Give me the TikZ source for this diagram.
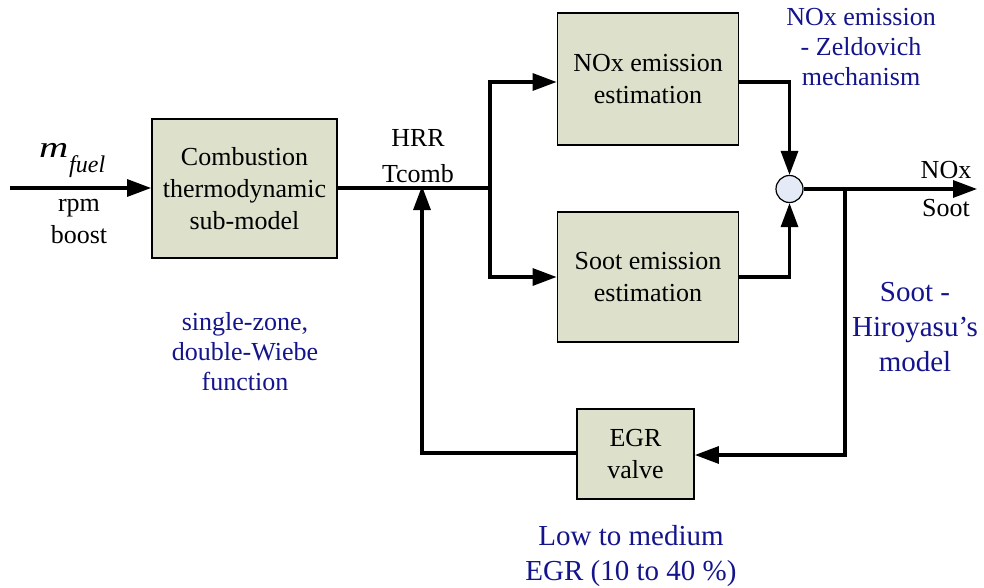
\documentclass[tikz,border=0pt]{standalone}
\usepackage{fontspec}
\setmainfont{Liberation Serif}
\usetikzlibrary{arrows.meta}
\definecolor{boxfill}{RGB}{221,224,203}
\definecolor{sumfill}{RGB}{228,234,246}
\definecolor{notecol}{RGB}{20,20,140}
\begin{document}
\begin{tikzpicture}[x=1pt,y=-1pt,
  txt/.style={font=\fontsize{26}{32}\selectfont, align=center, inner sep=0pt},
  block/.style={draw=black, line width=1.8pt, fill=boxfill, inner sep=0pt,
    font=\fontsize{26}{32}\selectfont, align=center},
  note/.style={text=notecol, font=\fontsize{26}{30}\selectfont, align=center, inner sep=0pt},
  bignote/.style={text=notecol, font=\fontsize{29}{35}\selectfont, align=center, inner sep=0pt},
  sig/.style={line width=3.2pt},
  arr/.style={sig, -{Triangle[length=24pt,width=17pt]}},
]
\useasboundingbox (0,0) rectangle (984,588);

% blocks
\node[block, minimum width=185pt, minimum height=139pt] (comb) at (244.5,188.5)
  {Combustion\\thermodynamic\\sub-model};
\node[block, minimum width=181pt, minimum height=132pt] (nox) at (648,79)
  {\raisebox{-4pt}{\parbox{181pt}{\centering NOx emission\\estimation}}};
\node[block, minimum width=181pt, minimum height=130pt] (soot) at (648,277)
  {\raisebox{-4pt}{\parbox{181pt}{\centering Soot emission\\estimation}}};
\node[block, minimum width=117pt, minimum height=90pt] (egr) at (635.5,454)
  {\raisebox{-2pt}{\parbox{117pt}{\centering EGR\\valve}}};
\node[draw=black, line width=1.2pt, fill=sumfill, circle, minimum size=27pt, inner sep=0pt]
  (sum) at (789.5,189) {};

% routing points
\coordinate (in) at (10,188);
\coordinate (split) at (490,188);
\coordinate (tap) at (845,189);
\coordinate (fb) at (422,188);
\coordinate (out) at (977,189);

% signal paths
\draw[arr] (in) -- (comb.west |- in);
\draw[sig] (comb.east |- split) -- (split);
\draw[arr] (split) |- (nox.west |- 0,82);
\draw[arr] (split) |- (soot.west |- 0,277);
\draw[arr] (nox.east |- 0,82) -| (sum.north);
\draw[arr] (soot.east |- 0,277) -| (sum.south);
\draw[arr] (sum.east) -- (out);
\draw[arr] (tap) |- (egr.east |- 0,455);
\draw[arr] (egr.west |- 0,453) -| ([yshift=2pt]fb);

% signal labels
\node[inner sep=0pt, anchor=base west] (mf) at (39,158)
  {\scalebox{1.35}[1]{\fontsize{30}{30}\selectfont\itshape m}};
\node[inner sep=0pt, anchor=base west] (fuel) at (69,172)
  {\fontsize{24}{24}\selectfont\itshape fuel};
\node[txt] (rpm) at (79,222) {rpm\\boost};
\node[txt, font=\fontsize{26}{36}\selectfont] (hrr) at (418,156) {HRR\\Tcomb};
\node[txt, font=\fontsize{26}{38}\selectfont] (outlbl) at (946,189) {NOx\\Soot};

% model notes
\node[note] (zone) at (245,352) {single-zone,\\double-Wiebe\\function};
\node[note] (zeld) at (861,47) {NOx emission\\- Zeldovich\\mechanism};
\node[bignote] (hiro) at (915,327) {Soot -\\Hiroyasu's\\model};
\node[bignote] (egrnote) at (631,556) {Low to medium\\EGR (10 to 40 \%)};
\end{tikzpicture}
\end{document}
